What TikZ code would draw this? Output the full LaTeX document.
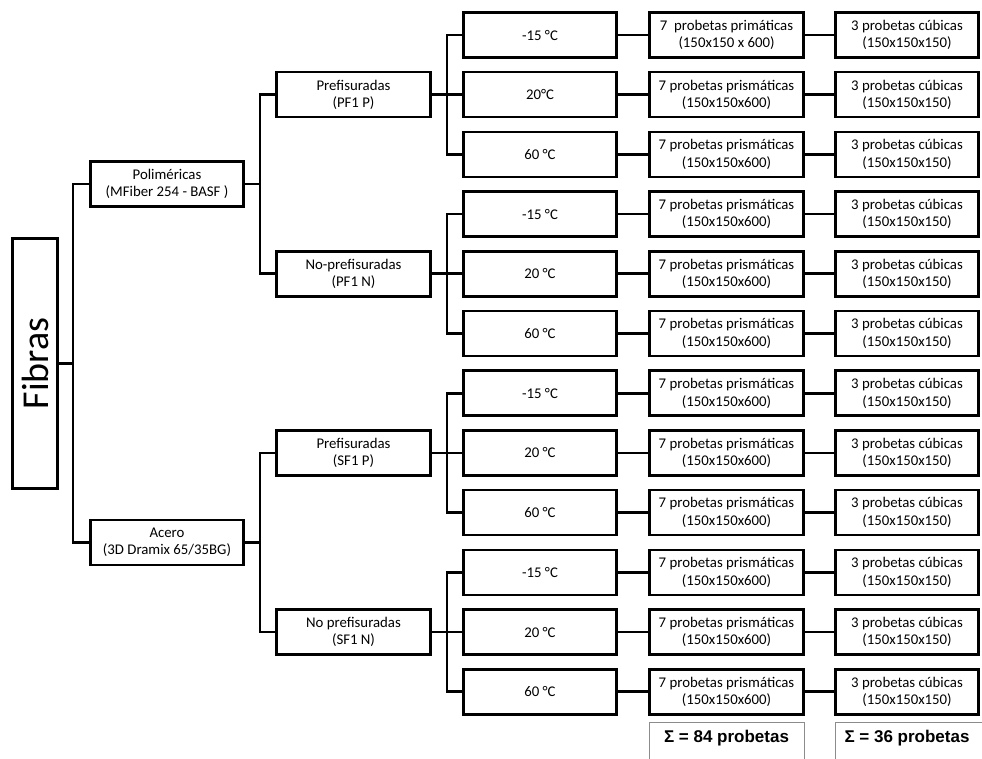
\documentclass[tikz,border=0pt]{standalone}
\usepackage{fontspec}
\setmainfont{Carlito}
\newfontfamily\sumfont{Liberation Sans}
\begin{document}
\begin{tikzpicture}[x=1pt,y=-1pt,
 box/.style={draw=black,line width=2.6pt,minimum height=45pt,align=center,inner sep=0pt,font=\fontsize{14.8}{17.5}\selectfont},
 lvlone/.style={box,minimum width=153pt},
 lvltwo/.style={box,minimum width=154pt},
 tempbox/.style={box,minimum width=153pt},
 prismbox/.style={box,minimum width=154pt},
 cubebox/.style={box,minimum width=143pt},
 conn/.style={line width=2.6pt},
 sumline/.style={draw=black!45,line width=1pt},
 sumtext/.style={font=\sumfont\bfseries\fontsize{17}{19}\selectfont,inner sep=0pt}]
\useasboundingbox (0,0) rectangle (982,759);
\node[box,minimum width=45pt,minimum height=250pt] (fib) at (35,363.5) {\rotatebox{90}{\fontsize{38}{38}\selectfont Fibras}};
\node[lvlone] (poli) at (167,184) {Poliméricas\\(MFiber 254 - BASF )};
\node[lvlone] (acero) at (167,542.5) {Acero\\(3D Dramix 65/35BG)};
\node[lvltwo] (pfp) at (353.5,94.7) {Prefisuradas\\(PF1 P)};
\node[lvltwo] (pfn) at (353.5,273.8) {No-prefisuradas\\(PF1 N)};
\node[lvltwo] (sfp) at (353.5,452.9) {Prefisuradas\\(SF1 P)};
\node[lvltwo] (sfn) at (353.5,632) {No prefisuradas\\(SF1 N)};
\draw[conn] (fib.east) -- ++(14,0) |- (poli.west);
\draw[conn] (fib.east) -- ++(14,0) |- (acero.west);
\draw[conn] (poli.east) -- ++(15,0) |- (pfp.west);
\draw[conn] (poli.east) -- ++(15,0) |- (pfn.west);
\draw[conn] (acero.east) -- ++(15,0) |- (sfp.west);
\draw[conn] (acero.east) -- ++(15,0) |- (sfn.west);
\foreach \i/\tt in {0/-15 °C,1/20°C,2/60 °C,3/-15 °C,4/20 °C,5/60 °C,6/-15 °C,7/20 °C,8/60 °C,9/-15 °C,10/20 °C,11/60 °C}{
  \pgfmathsetmacro{\yy}{35+59.7*\i}
  \node[tempbox] (t\i) at (540,\yy) {\tt};
  \ifnum\i=0
    \node[prismbox] (p\i) at (726.5,\yy) {7\ \ probetas primáticas\\(150x150 x 600)};
  \else
    \node[prismbox] (p\i) at (726.5,\yy) {7 probetas prismáticas\\(150x150x600)};
  \fi
  \node[cubebox] (c\i) at (907,\yy) {3 probetas cúbicas\\(150x150x150)};
  \draw[conn] (t\i.east) -- (p\i.west);
  \draw[conn] (p\i.east) -- (c\i.west);
}
\foreach \i in {0,1,2}{\draw[conn] (pfp.east) -- ++(15,0) |- (t\i.west);}
\foreach \i in {3,4,5}{\draw[conn] (pfn.east) -- ++(15,0) |- (t\i.west);}
\foreach \i in {6,7,8}{\draw[conn] (sfp.east) -- ++(15,0) |- (t\i.west);}
\foreach \i in {9,10,11}{\draw[conn] (sfn.east) -- ++(15,0) |- (t\i.west);}
\node[sumtext] (s1) at (726.5,738) {Σ = 84 probetas};
\node[sumtext] (s2) at (907,738) {Σ = 36 probetas};
\draw[sumline] (649.5,760) -- (649.5,722.5) -- (804,722.5) -- (804,760);
\draw[sumline] (835.5,760) -- (835.5,722.5) -- (983,722.5);
\end{tikzpicture}
\end{document}
